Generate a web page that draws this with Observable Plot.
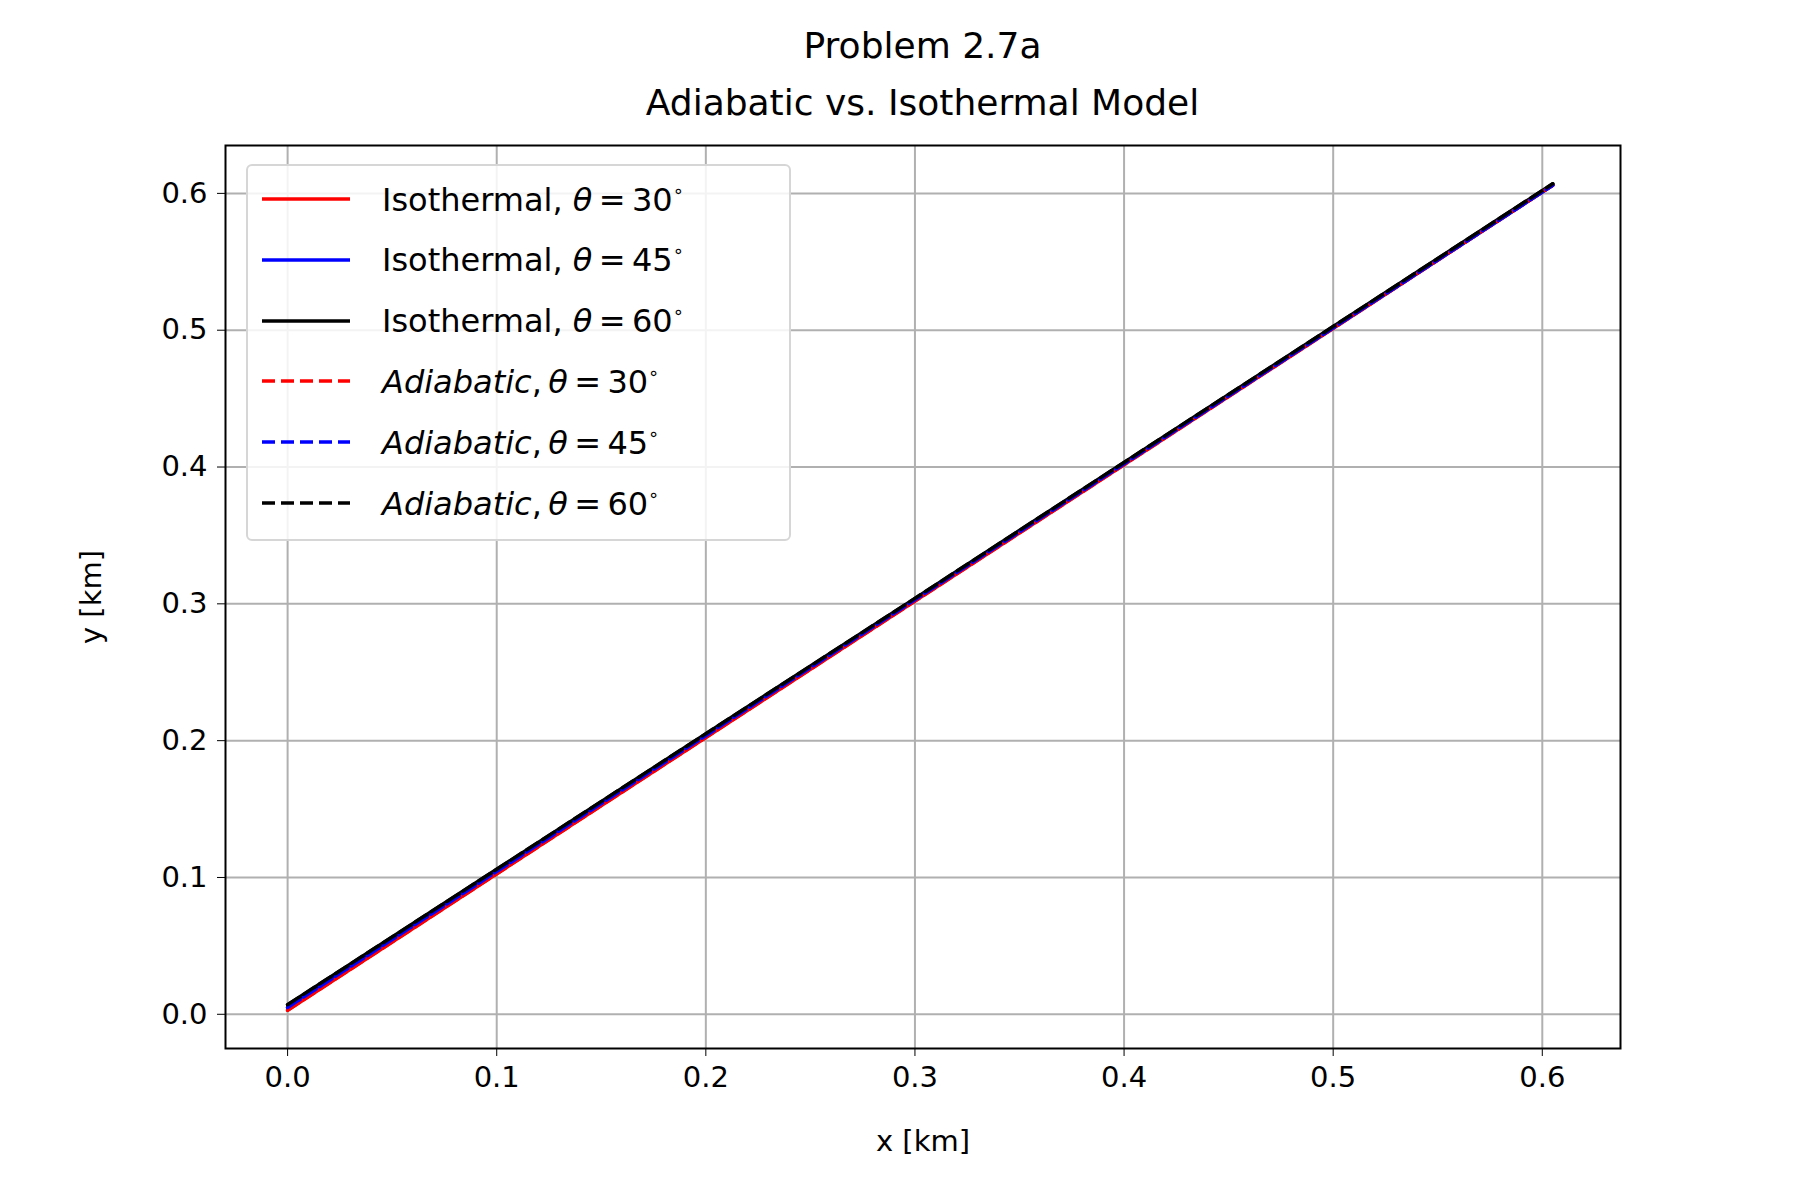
<!DOCTYPE html>
<html><head><meta charset="utf-8">
<script src="https://cdn.jsdelivr.net/npm/d3@7"></script>
<script src="https://cdn.jsdelivr.net/npm/@observablehq/plot@0.6"></script>
<style>
body{margin:0;background:#fff;font-family:"DejaVu Sans",sans-serif;}
#wrap{position:relative;width:1800px;height:1200px;}
.title{position:absolute;left:0;width:1845px;text-align:center;font-size:36px;line-height:40px;color:#000;}
#legend{position:absolute;left:246px;top:164px;width:545px;height:377px;border:2px solid #d6d6d6;border-radius:6px;background:rgba(255,255,255,0.85);box-sizing:border-box;}
.row{position:absolute;left:0;height:40px;display:flex;align-items:center;font-size:32px;}
.row svg{margin-left:14px;margin-right:32px;}
sup{font-size:18px;vertical-align:14px;}
</style></head>
<body><div id="wrap">
<div class="title" style="top:26px">Problem 2.7a</div>
<div class="title" style="top:83px">Adiabatic vs. Isothermal Model</div>
<div id="chart"></div>
<div id="legend"></div>
</div>
<script>
const angles = [30, 45, 60];
const colors = ["red", "blue", "black"];
const xs = [0, 0.3, 0.605];
const yIso = {30: [0.003, 0.302, 0.606], 45: [0.005, 0.303, 0.606], 60: [0.007, 0.304, 0.607]};
const yAdi = {30: [0.003, 0.302, 0.606], 45: [0.005, 0.303, 0.606], 60: [0.007, 0.304, 0.607]};
const xTicks = [0, 0.1, 0.2, 0.3, 0.4, 0.5, 0.6];
const yTicks = [0, 0.1, 0.2, 0.3, 0.4, 0.5, 0.6];

const series = [];
for (const [model, src] of [["Isothermal", yIso], ["Adiabatic", yAdi]]) {
  angles.forEach((a, i) => series.push({model, a, color: colors[i],
    pts: xs.map((x, j) => ({x, y: src[a][j]}))}));
}

const chart = Plot.plot({
  width: 1800, height: 1200,
  marginLeft: 225, marginRight: 180, marginTop: 145, marginBottom: 152,
  style: {fontFamily: "DejaVu Sans", fontSize: "29px", color: "black", background: "white"},
  x: {domain: [-0.0297, 0.6374], ticks: xTicks, tickFormat: d3.format(".1f"), tickSize: 8, tickPadding: 10,
      label: "x [km]", labelAnchor: "center", labelArrow: "none", labelOffset: 102},
  y: {domain: [-0.025, 0.635], ticks: yTicks, tickFormat: d3.format(".1f"), tickSize: 8, tickPadding: 10,
      label: "y [km]", labelAnchor: "center", labelArrow: "none", labelOffset: 145},
  marks: [
    Plot.gridX(xTicks, {stroke: "#b0b0b0", strokeOpacity: 1, strokeWidth: 2}),
    Plot.gridY(yTicks, {stroke: "#b0b0b0", strokeOpacity: 1, strokeWidth: 2}),
    ...series.map(s => Plot.line(s.pts, {x: "x", y: "y", stroke: s.color, strokeWidth: 3.5,
      strokeDasharray: s.model === "Adiabatic" ? "13,6" : null})),
    Plot.frame({stroke: "black", strokeWidth: 2})
  ]
});
document.getElementById("chart").append(chart);

const legend = document.getElementById("legend");
series.forEach((s, i) => {
  const row = document.createElement("div");
  row.className = "row";
  row.style.top = (13 + i * 60.8) + "px";
  const dash = s.model === "Adiabatic" ? 'stroke-dasharray="13,6"' : "";
  const name = s.model === "Adiabatic" ? "<i>Adiabatic</i>,&thinsp;" : "Isothermal,&nbsp;";
  row.innerHTML = `<svg width="88" height="10"><line x1="0" x2="88" y1="5" y2="5" stroke="${s.color}" stroke-width="3.5" ${dash}/></svg>
    <span>${name}<i>θ</i>&thinsp;=&thinsp;${s.a}<sup>∘</sup></span>`;
  legend.append(row);
});
</script>
</body></html>
